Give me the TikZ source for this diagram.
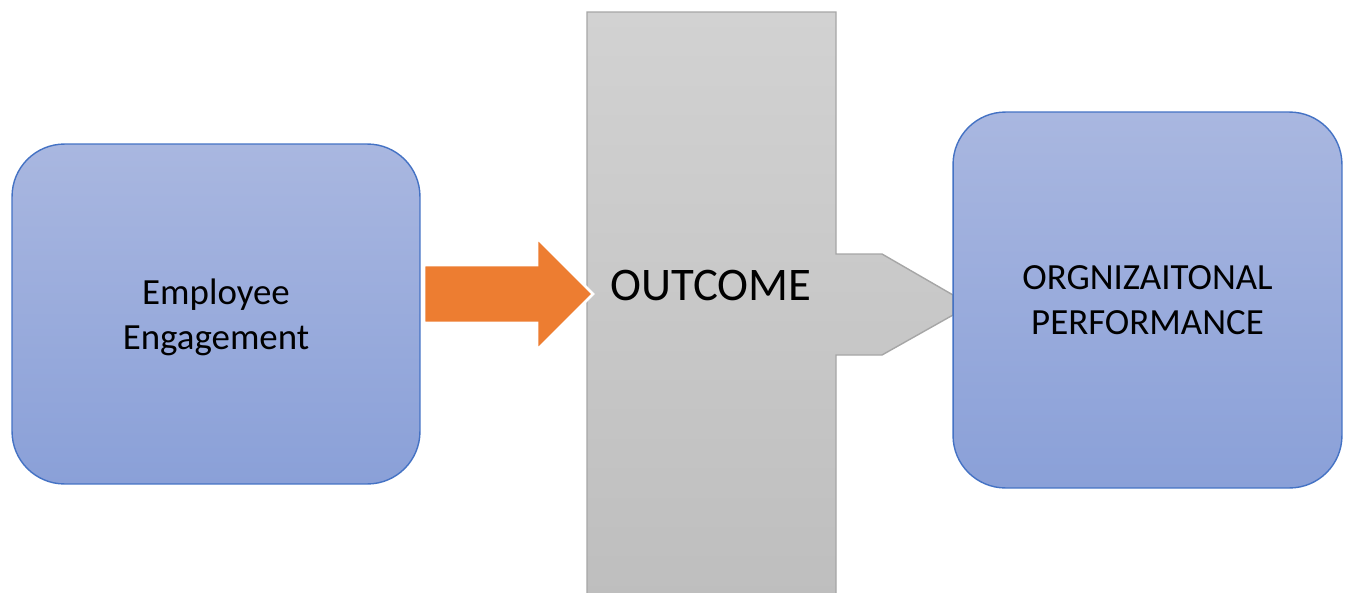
\documentclass[tikz,border=0pt]{standalone}
\usepackage{fontspec}
\setmainfont{Carlito}
\usetikzlibrary{positioning}
\definecolor{boxtop}{HTML}{A9B7E0}
\definecolor{boxbottom}{HTML}{8AA0D8}
\definecolor{boxline}{HTML}{4472C4}
\definecolor{bandtop}{HTML}{D2D2D2}
\definecolor{bandbottom}{HTML}{BEBEBE}
\definecolor{bandline}{HTML}{A6A6A6}
\definecolor{arroworange}{HTML}{ED7D31}
\tikzset{
  box/.style={draw=boxline, line width=0.8pt, rounded corners=1.05cm,
    top color=boxtop, bottom color=boxbottom, align=center,
    font=\fontsize{21}{25.6}\selectfont},
  band/.style={draw=bandline, line width=0.8pt, top color=bandtop, bottom color=bandbottom}
}

\begin{document}
\begin{tikzpicture}[x=0.02cm, y=-0.02cm]
  \useasboundingbox (0,0) rectangle (1349,592);
  \clip (0,0) rectangle (1349,592);

  % gray band, pointing to the right box
  \draw[band] (587,12) -- (836,12) -- (836,254) -- (882,254) -- (953,295)
    -- (953,315) -- (882,355) -- (836,355) -- (836,600) -- (587,600) -- cycle;
  \node[font=\fontsize{26.6}{32}\selectfont] (outcome) at (711,286) {OUTCOME};

  % the two boxes
  \node[box, minimum width=8.16cm, minimum height=6.8cm] (engage) at (216,314) {\\[-0.7ex]Employee\\Engagement};
  \node[box, minimum width=7.78cm, minimum height=7.52cm] (perform) at (1147.5,300) {ORGNIZAITONAL\\PERFORMANCE};

  % orange block arrow
  \draw[fill=arroworange, draw=white, line width=1.5pt] (424,265) -- (537,265) -- (537,238)
    -- (593,294) -- (537,350) -- (537,323) -- (424,323) -- cycle;
\end{tikzpicture}
\end{document}
